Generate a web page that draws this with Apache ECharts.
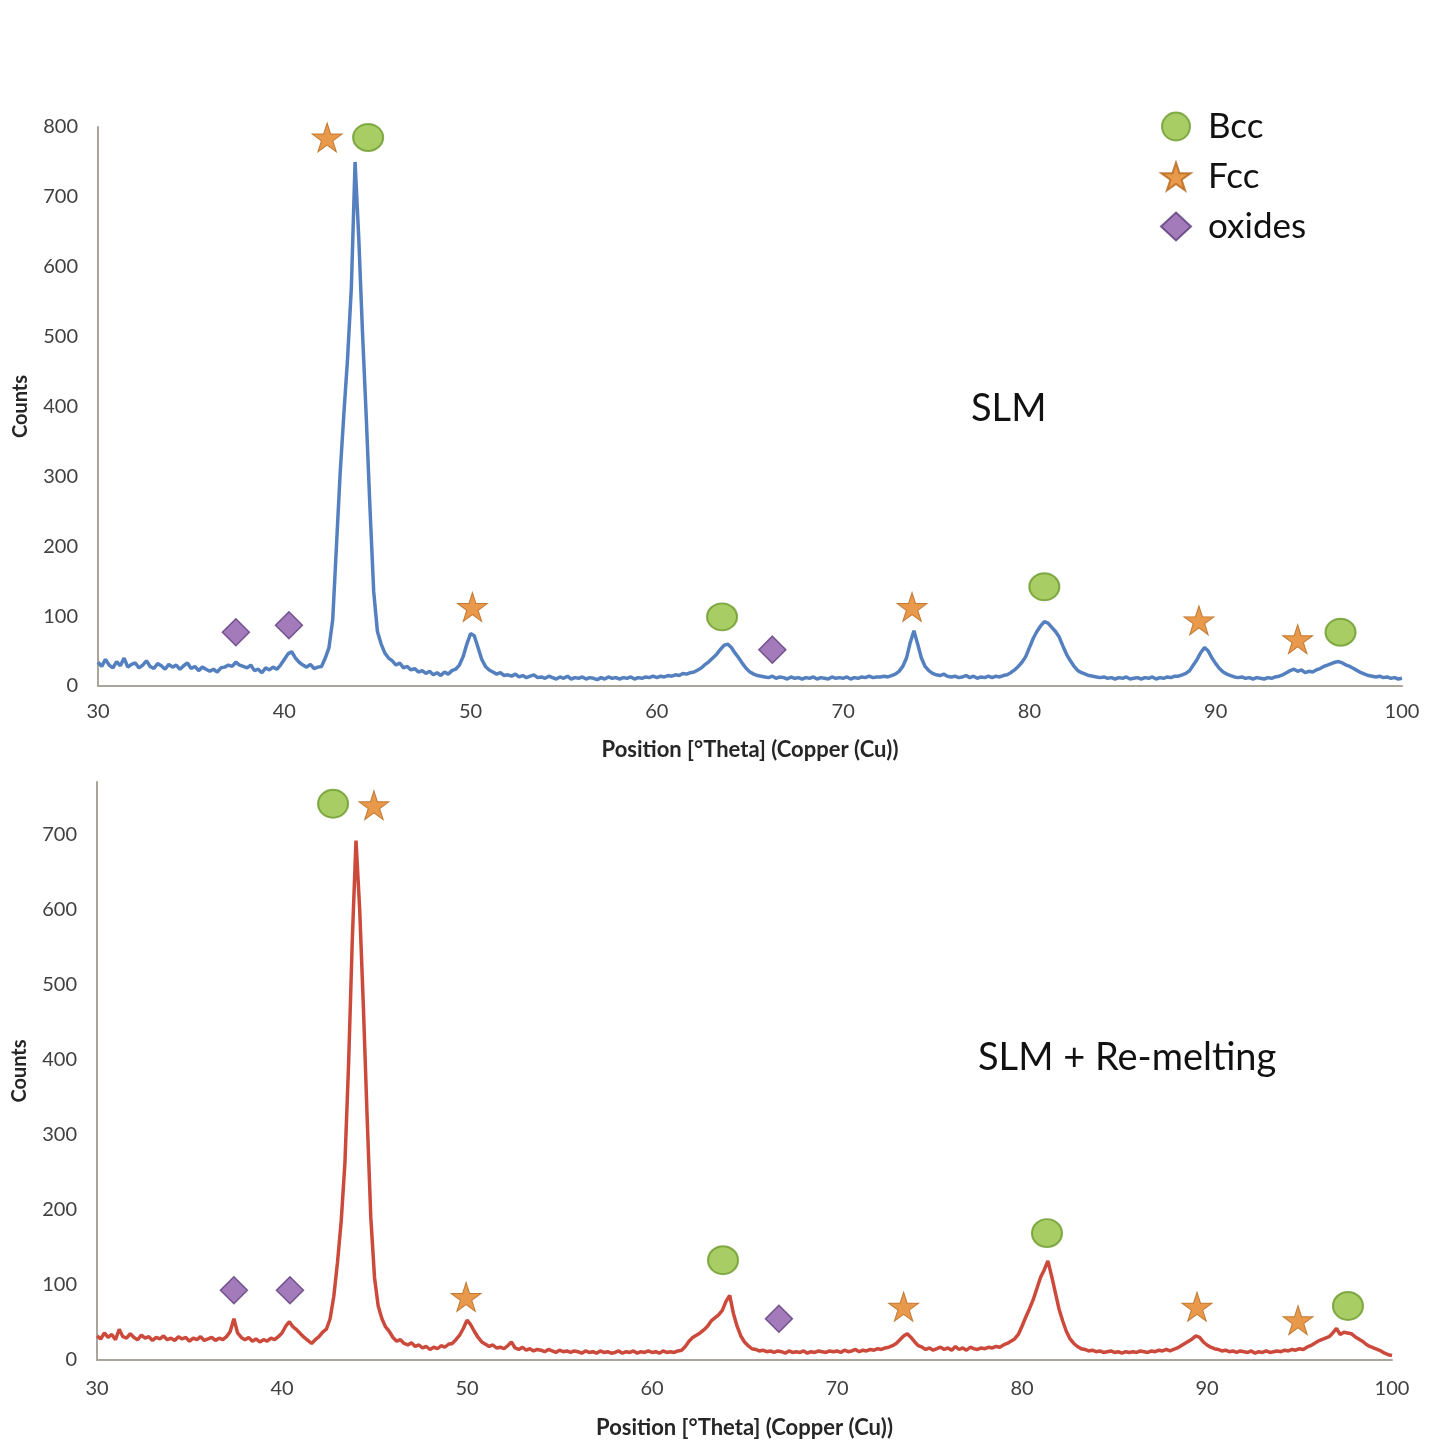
<!DOCTYPE html>
<html>
<head>
<meta charset="utf-8">
<script src="https://cdn.jsdelivr.net/npm/echarts@6/dist/echarts.min.js"></script>
<style>
html,body{margin:0;padding:0;background:#fff;}
#chart{width:1442px;height:1456px;}
</style>
</head>
<body>
<div id="chart"></div>
<script>
// Sampling grid: 2θ from 30° to 100° every 0.2°
const thetaStart = 30;
const thetaStep = 0.2;

// SLM pattern (counts), one row = 2°
const slmCounts = [
  34, 28, 38, 30, 26, 35, 29, 40, 27, 31,
  33, 26, 30, 36, 28, 25, 32, 29, 24, 31,
  27, 30, 24, 29, 33, 25, 28, 22, 27, 24,
  21, 24, 20, 26, 27, 30, 28, 34, 30, 28,
  26, 30, 22, 24, 19, 26, 23, 27, 24, 30,
  38, 46, 49, 40, 34, 30, 27, 31, 25, 27,
  28, 40, 55, 95, 200, 305, 390, 470, 570, 750,
  640, 505, 385, 255, 135, 78, 60, 47, 40, 36,
  30, 33, 26, 28, 23, 25, 20, 22, 18, 21,
  16, 19, 15, 20, 17, 22, 24, 30, 42, 60,
  75, 72, 55, 38, 28, 23, 20, 17, 19, 15,
  16, 14, 17, 13, 15, 12, 14, 16, 12, 13,
  11, 14, 12, 10, 13, 11, 14, 10, 12, 11,
  13, 10, 12, 11, 9, 12, 10, 13, 11, 12,
  10, 12, 11, 13, 10, 12, 11, 13, 12, 14,
  12, 14, 13, 15, 14, 16, 15, 18, 17, 19,
  20, 23, 26, 31, 35, 40, 45, 52, 58, 60,
  55, 47, 40, 32, 25, 20, 17, 15, 14, 13,
  12, 14, 11, 13, 12, 10, 13, 11, 12, 10,
  12, 11, 13, 10, 12, 11, 10, 13, 11, 12,
  11, 13, 10, 12, 11, 13, 12, 14, 12, 13,
  13, 14, 13, 15, 17, 21, 28, 40, 62, 79,
  60, 40, 28, 22, 18, 16, 15, 17, 14, 13,
  14, 12, 13, 15, 12, 14, 11, 13, 12, 14,
  12, 14, 13, 15, 16, 19, 23, 28, 34, 42,
  55, 68, 78, 86, 92, 90, 84, 78, 70, 57,
  45, 36, 28, 22, 19, 17, 15, 14, 13, 12,
  13, 11, 12, 10, 12, 11, 13, 10, 11, 12,
  10, 12, 11, 13, 10, 12, 11, 13, 12, 14,
  14, 16, 18, 22, 30, 38, 48, 55, 50, 40,
  32, 25, 20, 17, 15, 13, 12, 13, 11, 12,
  10, 12, 11, 10, 12, 11, 13, 14, 16, 19,
  22, 24, 21, 23, 19, 21, 20, 23, 25, 28,
  30, 32, 34, 35, 33, 30, 28, 25, 22, 19,
  17, 15, 14, 13, 14, 12, 13, 11, 12, 10,
  11
];

// SLM + Re-melting pattern (counts), one row = 2°
const remeltCounts = [
  32, 28, 36, 30, 34, 27, 41, 31, 29, 35,
  30, 27, 33, 29, 31, 26, 30, 28, 32, 27,
  29, 26, 31, 28, 30, 25, 29, 27, 31, 26,
  28, 30, 26, 29, 27, 31, 38, 55, 36, 30,
  27, 30, 25, 28, 24, 27, 25, 29, 27, 31,
  36, 45, 51, 44, 40, 35, 30, 26, 22, 27,
  31, 37, 41, 55, 85, 130, 185, 262, 395, 560,
  692, 600, 470, 325, 190, 110, 72, 55, 44, 38,
  30, 25, 27, 22, 20, 23, 18, 20, 16, 18,
  14, 17, 15, 19, 17, 21, 22, 27, 33, 42,
  53, 47, 38, 30, 24, 21, 18, 20, 16, 17,
  15, 19, 24, 16, 14, 17, 13, 15, 12, 14,
  13, 11, 14, 12, 10, 13, 11, 12, 10, 12,
  11, 9, 12, 10, 11, 9, 12, 10, 11, 9,
  10, 12, 9, 11, 10, 12, 9, 11, 10, 12,
  10, 11, 9, 12, 10, 11, 10, 12, 13, 18,
  25, 30, 33, 36, 40, 45, 52, 56, 60, 66,
  78, 86, 62, 45, 32, 24, 19, 15, 14, 12,
  13, 11, 12, 10, 12, 11, 9, 12, 10, 11,
  10, 12, 9, 11, 10, 12, 11, 10, 12, 11,
  12, 10, 13, 11, 12, 14, 11, 13, 12, 14,
  13, 15, 14, 16, 17, 19, 22, 27, 32, 35,
  30, 24, 19, 17, 14, 16, 13, 15, 17, 14,
  16, 13, 18, 14, 16, 13, 17, 15, 14, 16,
  15, 17, 16, 18, 17, 20, 22, 25, 28, 34,
  45, 57, 68, 80, 95, 110, 120, 132, 112, 90,
  68, 52, 38, 28, 22, 18, 15, 14, 12, 13,
  11, 12, 10, 11, 12, 10, 11, 9, 11, 10,
  11, 10, 12, 11, 10, 12, 11, 13, 12, 14,
  12, 14, 16, 19, 22, 25, 28, 32, 30, 24,
  20, 17, 15, 14, 12, 13, 11, 12, 10, 12,
  11, 10, 12, 9, 11, 10, 12, 10, 11, 12,
  11, 13, 12, 14, 13, 15, 14, 17, 19, 22,
  25, 27, 29, 31, 36, 42, 34, 37, 36, 35,
  31, 28, 25, 21, 18, 16, 14, 12, 9, 7,
  6
];

// Phase markers [2θ, counts]
const slmBcc = [[44.5, 785], [63.5, 99], [80.8, 142], [96.7, 77]];
const slmFcc = [[42.3, 785], [50.1, 113], [73.7, 113], [89.1, 94], [94.4, 67]];
const slmOxides = [[37.4, 77], [40.25, 87], [66.2, 52]];
const remeltBcc = [[42.76, 741], [63.84, 133], [81.35, 169], [97.62, 72]];
const remeltFcc = [[44.97, 739], [49.95, 84], [73.6, 71], [89.46, 71], [94.92, 53]];
const remeltOxides = [[37.4, 93], [40.43, 93], [66.86, 55]];

const xTicks = [30, 40, 50, 60, 70, 80, 90, 100];
const phaseNames = ['Bcc', 'Fcc', 'oxides'];
const panelLabels = ['SLM', 'SLM + Re-melting'];
const xName = 'Position [°Theta] (Copper (Cu))';
const yName = 'Counts';

function toPairs(counts) {
  return counts.map((c, i) => [Math.round((thetaStart + thetaStep * i) * 10) / 10, c]);
}

const FONT = 'Lato, "Open Sans", sans-serif';
const starPath = 'path://M50,0 L61.2,34.5 L97.6,34.5 L68.2,55.9 L79.4,90.5 L50,69.1 L20.6,90.5 L31.8,55.9 L2.4,34.5 L38.8,34.5 Z';

const bccStyle = { color: '#93c13f', borderColor: '#6c9a2b', borderWidth: 2 };
const fccStyle = { color: '#e3801f', borderColor: '#b5661a', borderWidth: 1 };
const oxStyle = { color: '#8c5aa9', borderColor: '#5e3b7b', borderWidth: 1.5 };
const AXIS_COLOR = '#a9a59b';

function xAxis(gridIndex, margin, gap) {
  return {
    gridIndex, type: 'value', min: 30, max: 100, interval: 10,
    name: xName, nameLocation: 'middle', nameGap: gap,
    nameTextStyle: { fontFamily: FONT, fontSize: 22, fontWeight: 'bold', color: '#262626' },
    axisLine: { lineStyle: { color: AXIS_COLOR, width: 2 } },
    axisTick: { show: false },
    splitLine: { show: false },
    axisLabel: { fontFamily: FONT, fontSize: 20, color: '#404040', margin,
      formatter: v => xTicks.includes(v) ? String(v) : '' }
  };
}
function yAxis(gridIndex, max) {
  return {
    gridIndex, type: 'value', min: 0, max, interval: 100,
    name: yName, nameLocation: 'middle', nameGap: 67, nameRotate: 90,
    nameTextStyle: { fontFamily: FONT, fontSize: 20, fontWeight: 'bold', color: '#262626' },
    axisLine: { show: true, lineStyle: { color: AXIS_COLOR, width: 2 } },
    axisTick: { show: false },
    splitLine: { show: false },
    axisLabel: { fontFamily: FONT, fontSize: 20, color: '#404040', margin: 20,
      formatter: v => (v % 100 === 0 ? String(v) : '') }
  };
}

function markerSeries(name, data, gi, symbol, size, style) {
  return {
    name, type: 'scatter', xAxisIndex: gi, yAxisIndex: gi,
    data, symbol, symbolSize: size, itemStyle: style, z: 5, clip: false
  };
}

const chart = echarts.init(document.getElementById('chart'), null, { renderer: 'canvas' });
chart.setOption({
  animation: false,
  backgroundColor: '#ffffff',
  grid: [
    { left: 98, right: 40, top: 127, bottom: 770, outerBoundsMode: 'none', containLabel: false },
    { left: 97, right: 50, top: 782, bottom: 96, outerBoundsMode: 'none', containLabel: false }
  ],
  xAxis: [xAxis(0, 16, 53), xAxis(1, 19, 57)],
  yAxis: [yAxis(0, 800), yAxis(1, 770)],
  legend: {
    data: phaseNames.map(n => ({ name: n })),
    orient: 'vertical', left: 1155, top: 104,
    itemWidth: 30, itemHeight: 28, itemGap: 15,
    textStyle: { fontFamily: FONT, fontSize: 35, lineHeight: 28, color: '#111', padding: [0, 0, 0, 12] }
  },
  graphic: [
    { type: 'text', left: 971, top: 390, style: { text: panelLabels[0], font: '38px ' + FONT, fill: '#111' } },
    { type: 'text', left: 978, top: 1039, style: { text: panelLabels[1], font: '38px ' + FONT, fill: '#111' } }
  ],
  series: [
    { name: 'SLM', type: 'line', xAxisIndex: 0, yAxisIndex: 0, data: toPairs(slmCounts),
      showSymbol: false, lineStyle: { color: '#5580c0', width: 3.5 }, z: 2 },
    { name: 'SLM + Re-melting', type: 'line', xAxisIndex: 1, yAxisIndex: 1, data: toPairs(remeltCounts),
      showSymbol: false, lineStyle: { color: '#cc4a3c', width: 3.5 }, z: 2 },
    markerSeries('Bcc', slmBcc, 0, 'circle', [30, 27], bccStyle),
    markerSeries('Fcc', slmFcc, 0, starPath, [30, 29], fccStyle),
    markerSeries('oxides', slmOxides, 0, 'diamond', [27, 27], oxStyle),
    markerSeries('Bcc', remeltBcc, 1, 'circle', [30, 28], bccStyle),
    markerSeries('Fcc', remeltFcc, 1, starPath, [30, 29], fccStyle),
    markerSeries('oxides', remeltOxides, 1, 'diamond', [27, 27], oxStyle)
  ]
});
</script>
</body>
</html>
